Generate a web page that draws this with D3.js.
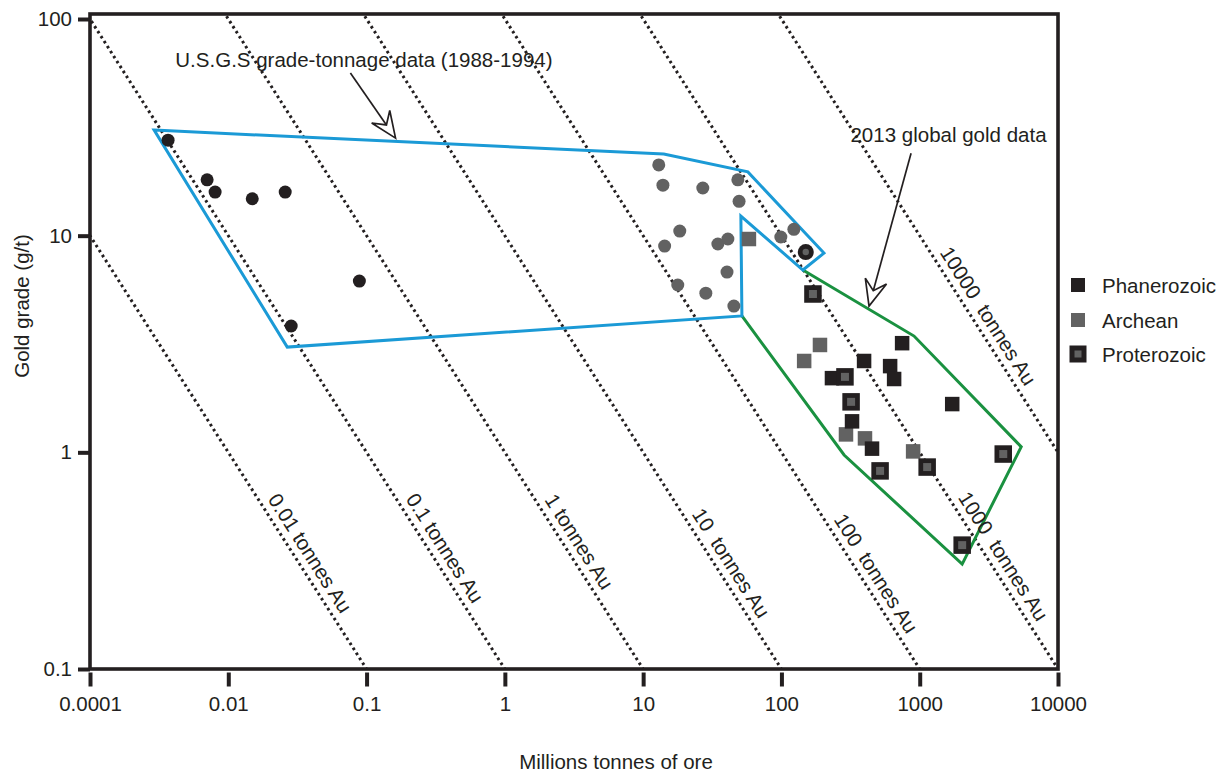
<!DOCTYPE html>
<html><head><meta charset="utf-8">
<script src="https://cdn.jsdelivr.net/npm/d3@7"></script>
<style>
html,body{margin:0;padding:0;background:#fff;}
svg{display:block;font-family:"Liberation Sans",Arial,sans-serif;}
</style></head><body>
<svg id="chart" width="1228" height="774"></svg>
<script>
// ---------- data ----------
const xTickValues = [0.001, 0.01, 0.1, 1, 10, 100, 1000, 10000];
const xTickLabels = ["0.0001", "0.01", "0.1", "1", "10", "100", "1000", "10000"];
const yTickValues = [0.1, 1, 10, 100];
const yTickLabels = ["0.1", "1", "10", "100"];

const contourTonnes = [0.01, 0.1, 1, 10, 100, 1000, 10000];
const contourLabels = ["0.01 tonnes Au", "0.1 tonnes Au", "1 tonnes Au", "10  tonnes Au",
                       "100  tonnes Au", "1000  tonnes Au", "10000  tonnes Au"];
const contourLabelGrade = [0.315, 0.333, 0.356, 0.284, 0.254, 0.305, 3.92];

// USGS grade-tonnage (circles)
const usgsBlackOre   = [0.00367, 0.00703, 0.00803, 0.0149, 0.0258, 0.0887, 0.0285];
const usgsBlackGrade = [27.6, 18.1, 15.9, 14.8, 15.9, 6.17, 3.83];
const usgsGrayOre    = [12.97, 13.9, 27.0, 48.4, 49.4, 18.4, 14.3, 34.7, 41.0, 40.4, 17.8, 28.4, 45.3, 123, 99];
const usgsGrayGrade  = [21.2, 17.1, 16.6, 18.1, 14.4, 10.5, 8.95, 9.15, 9.65, 6.79, 5.92, 5.43, 4.73, 10.7, 9.86];
const usgsRingOre    = [150];
const usgsRingGrade  = [8.40];

// 2013 global gold data (squares)
const phanerozoicOre   = [746, 396, 611, 653, 232, 324, 452, 1718];
const phanerozoicGrade = [3.19, 2.64, 2.50, 2.18, 2.20, 1.39, 1.04, 1.67];
const archeanOre       = [58.2, 190, 146, 293, 402, 896];
const archeanGrade     = [9.65, 3.13, 2.64, 1.21, 1.16, 1.01];
const proterozoicOre   = [169, 288, 319, 517, 1132, 4018, 2028];
const proterozoicGrade = [5.38, 2.23, 1.71, 0.821, 0.855, 0.982, 0.373];

// envelopes
const usgsEnvOre     = [0.00291, 14.1, 57.2, 203, 143, 50.9, 51.8, 0.0267];
const usgsEnvGrade   = [30.7, 23.8, 19.7, 8.31, 6.94, 12.3, 4.26, 3.06];
const globalEnvOre   = [51.8, 284, 2028, 5420, 910, 143];
const globalEnvGrade = [4.26, 0.972, 0.305, 1.06, 3.44, 6.94];

// annotations
const noteTexts = ["U.S.G.S grade-tonnage data (1988-1994)", "2013 global gold data"];
const noteOre   = [0.0957, 1615];
const noteGrade = [60, 27.0];
const arrowFromOre   = [0.0764, 866];
const arrowFromGrade = [56.3, 24.0];
const arrowToOre     = [0.162, 430];
const arrowToGrade   = [28.2, 4.73];

const legendLabels = ["Phanerozoic", "Archean", "Proterozoic"];

// ---------- drawing ----------
const INK = "#231f20", GRAY = "#626262", BLUE = "#1b9ad6", GREEN = "#1a9140";
const FS = "20.5px";
const svg = d3.select("#chart");
const pLeft = 90, pRight = 1058, pTop = 14, pBottom = 669;
const x = d3.scaleLog().domain([0.001, 10000]).range([pLeft, pRight]);
const y = d3.scaleLog().domain([0.1, 100]).range([pBottom, 19]);

svg.append("clipPath").attr("id", "plotclip")
  .append("rect").attr("x", pLeft).attr("y", pTop).attr("width", pRight - pLeft).attr("height", pBottom - pTop);

const plot = svg.append("g").attr("clip-path", "url(#plotclip)");

// contour lines
const line = d3.line().x(d => x(d[0])).y(d => y(d[1]));
plot.selectAll("path.contour").data(contourTonnes).join("path")
  .attr("class", "contour")
  .attr("d", t => line([[t / 1000, 1000], [t / 0.01, 0.01]]))
  .attr("fill", "none").attr("stroke", INK).attr("stroke-width", 3)
  .attr("stroke-dasharray", "2.6,3.3");

// contour labels
const ang = Math.atan2(y(0.1) - y(1), x(10) - x(1)) * 180 / Math.PI;
svg.selectAll("text.clabel").data(contourTonnes).join("text")
  .attr("class", "clabel")
  .attr("transform", (t, i) => {
    const g = contourLabelGrade[i];
    return `translate(${x(t / g)},${y(g)}) rotate(${ang})`;
  })
  .attr("y", -15)
  .attr("text-anchor", "middle").attr("dominant-baseline", "central")
  .style("white-space", "pre")
  .attr("font-size", FS).attr("fill", INK)
  .text((t, i) => contourLabels[i]);

// envelopes
const gEnv = globalEnvOre.map((o, i) => [o, globalEnvGrade[i]]);
plot.append("path").attr("d", line(gEnv))
  .attr("fill", "none").attr("stroke", GREEN).attr("stroke-width", 3).attr("stroke-linejoin", "miter");
const uEnv = usgsEnvOre.map((o, i) => [o, usgsEnvGrade[i]]);
plot.append("path").attr("d", line(uEnv) + "Z")
  .attr("fill", "none").attr("stroke", BLUE).attr("stroke-width", 3).attr("stroke-linejoin", "miter");

// circles
const pts = (ore, grade) => ore.map((o, i) => [o, grade[i]]);
plot.append("g").selectAll("circle").data(pts(usgsBlackOre, usgsBlackGrade)).join("circle")
  .attr("cx", d => x(d[0])).attr("cy", d => y(d[1])).attr("r", 6.5).attr("fill", INK);
plot.append("g").selectAll("circle").data(pts(usgsGrayOre, usgsGrayGrade)).join("circle")
  .attr("cx", d => x(d[0])).attr("cy", d => y(d[1])).attr("r", 6.5).attr("fill", GRAY);
const ring = plot.append("g").selectAll("g").data(pts(usgsRingOre, usgsRingGrade)).join("g");
ring.append("circle").attr("cx", d => x(d[0])).attr("cy", d => y(d[1])).attr("r", 8).attr("fill", INK);
ring.append("circle").attr("cx", d => x(d[0])).attr("cy", d => y(d[1])).attr("r", 3.2).attr("fill", GRAY);

// squares
function squares(data, size, fill) {
  plot.append("g").selectAll("rect").data(data).join("rect")
    .attr("x", d => x(d[0]) - size / 2).attr("y", d => y(d[1]) - size / 2)
    .attr("width", size).attr("height", size).attr("fill", fill);
}
squares(pts(archeanOre, archeanGrade), 14.5, GRAY);
squares(pts(phanerozoicOre, phanerozoicGrade), 14.5, INK);
squares(pts(proterozoicOre, proterozoicGrade), 17.5, INK);
squares(pts(proterozoicOre, proterozoicGrade), 8, GRAY);

// frame
svg.append("rect").attr("x", pLeft).attr("y", pTop).attr("width", pRight - pLeft).attr("height", pBottom - pTop)
  .attr("fill", "none").attr("stroke", INK).attr("stroke-width", 3.6);

// axes
const xAxis = d3.axisBottom(x).tickValues(xTickValues).tickFormat((d, i) => xTickLabels[i])
  .tickSize(14).tickPadding(10);
const gx = svg.append("g").attr("transform", `translate(0,${pBottom + 3.5})`).call(xAxis);
gx.select(".domain").remove();
gx.attr("font-family", null).attr("font-size", null);
gx.selectAll(".tick line").attr("stroke", INK).attr("stroke-width", 4);
gx.selectAll(".tick text").attr("font-size", FS).attr("fill", INK);

const yAxis = d3.axisLeft(y).tickValues(yTickValues).tickFormat((d, i) => yTickLabels[i])
  .tickSize(12).tickPadding(6);
const gy = svg.append("g").attr("transform", `translate(${pLeft},0)`).call(yAxis);
gy.select(".domain").remove();
gy.attr("font-family", null).attr("font-size", null);
gy.selectAll(".tick line").attr("stroke", INK).attr("stroke-width", 4);
gy.selectAll(".tick text").attr("font-size", FS).attr("fill", INK);

// axis titles
svg.append("text").attr("x", 616).attr("y", 769).attr("text-anchor", "middle")
  .attr("font-size", FS).attr("fill", INK).text("Millions tonnes of ore");
svg.append("text").attr("transform", "translate(29,306) rotate(-90)").attr("text-anchor", "middle")
  .attr("font-size", FS).attr("fill", INK).text("Gold grade (g/t)");

// notes + arrows
svg.selectAll("text.note").data(noteTexts).join("text").attr("class", "note")
  .attr("x", (d, i) => x(noteOre[i])).attr("y", (d, i) => y(noteGrade[i]))
  .attr("text-anchor", "middle").attr("font-size", FS).attr("fill", INK).text(d => d);

noteTexts.forEach((n, i) => {
  const x0 = x(arrowFromOre[i]), y0 = y(arrowFromGrade[i]);
  const x1 = x(arrowToOre[i]), y1 = y(arrowToGrade[i]);
  const len = Math.hypot(x1 - x0, y1 - y0);
  const ux = (x1 - x0) / len, uy = (y1 - y0) / len, vx = -uy, vy = ux;
  const L = 26, W = 11, N = 16;
  svg.append("line").attr("x1", x0).attr("y1", y0).attr("x2", x1 - N * ux).attr("y2", y1 - N * uy)
    .attr("stroke", INK).attr("stroke-width", 1.7);
  const head = [[x1, y1], [x1 - L * ux + W * vx, y1 - L * uy + W * vy], [x1 - N * ux, y1 - N * uy],
                [x1 - L * ux - W * vx, y1 - L * uy - W * vy]];
  svg.append("path").attr("d", "M" + head.map(p => p.join(",")).join("L") + "Z")
    .attr("fill", "#fff").attr("stroke", INK).attr("stroke-width", 1.7).attr("stroke-linejoin", "miter");
});

// legend
const lg = svg.append("g");
const lgY = [285, 320, 354];
legendLabels.forEach((lab, i) => {
  if (i === 0) lg.append("rect").attr("x", 1071).attr("y", lgY[i] - 7).attr("width", 14).attr("height", 14).attr("fill", INK);
  if (i === 1) lg.append("rect").attr("x", 1071).attr("y", lgY[i] - 7).attr("width", 14).attr("height", 14).attr("fill", GRAY);
  if (i === 2) {
    lg.append("rect").attr("x", 1069.5).attr("y", lgY[i] - 8.5).attr("width", 17).attr("height", 17).attr("fill", INK);
    lg.append("rect").attr("x", 1074.5).attr("y", lgY[i] - 3.5).attr("width", 7).attr("height", 7).attr("fill", GRAY);
  }
  lg.append("text").attr("x", 1102).attr("y", lgY[i]).attr("dominant-baseline", "central")
    .attr("font-size", FS).attr("fill", INK).text(lab);
});
</script></body></html>
